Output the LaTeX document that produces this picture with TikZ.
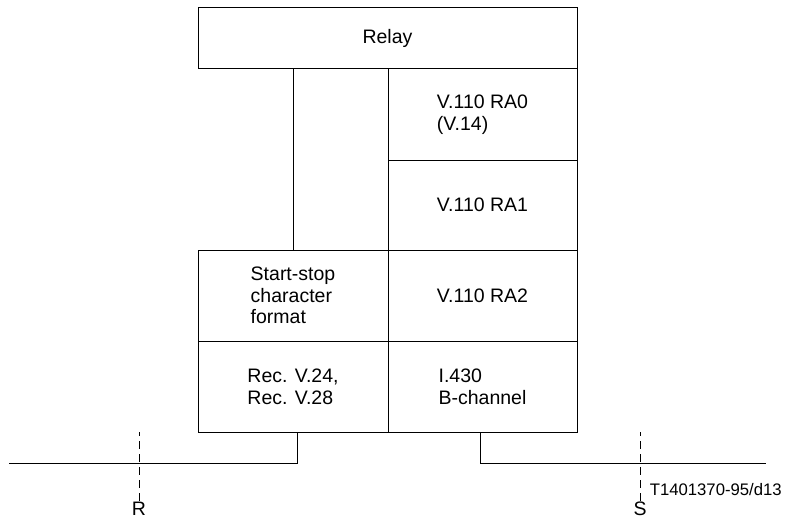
\documentclass[tikz,border=0pt]{standalone}
\usepackage{fontspec}
\setmainfont{Liberation Sans}
\usetikzlibrary{positioning}
\tikzset{
  layer/.style={draw, line width=1pt, inner sep=0pt, outer sep=0pt, align=left},
  refpoint/.style={draw, line width=1pt, dash pattern=on 8pt off 5pt}
}
\begin{document}
\begin{tikzpicture}[x=1pt, y=-1pt, line width=1pt,
  font=\fontsize{19.5}{21.7}\selectfont, node distance=0pt]
\useasboundingbox (0,0) rectangle (785,519);
% box widths and heights shared by the stack
\def\wcol{189pt}
\def\hrow{91pt}
% ---------------- protocol stack ----------------
\node[layer, minimum width=379pt, minimum height=61pt] (relay) at (387.5,38.5) {Relay};
\node[layer, minimum width=\wcol, minimum height=\hrow, below left=0pt and 0pt of relay.south east] (ra0) {V.110 RA0\\(V.14)};
\node[layer, minimum width=\wcol, minimum height=90pt, below=of ra0] (ra1) {V.110 RA1};
\node[layer, minimum width=\wcol, minimum height=\hrow, below=of ra1] (ra2) {V.110 RA2};
\node[layer, minimum width=\wcol, minimum height=\hrow, below=of ra2] (bch) {I.430\\B-channel};
\node[layer, minimum width=190pt, minimum height=\hrow, left=of ra2] (ss) {Start-stop\\character\\format};
\node[layer, minimum width=190pt, minimum height=\hrow, below=of ss] (rec) {Rec. V.24,\\Rec. V.28};
% empty column above the start-stop box
\draw (ss.north) -- (ss.north |- relay.south);
% ---------------- interfaces ----------------
\coordinate (lineL) at (9,463);
\coordinate (lineR) at (766,463);
\draw ([xshift=4pt]rec.south) |- (lineL);
\draw ([xshift=-2.5pt]bch.south) |- (lineR);
% reference points R and S
\node[inner sep=1pt] (R) at (139,509) {R};
\node[inner sep=1pt] (S) at (640,509) {S};
\draw[refpoint] (R.north) -- (R.north |- rec.south);
\draw[refpoint] (S.north) -- (S.north |- bch.south);
\node[anchor=west, font=\fontsize{16.7}{18}\selectfont] (tag) at (646,490) {T1401370-95/d13};
\end{tikzpicture}
\end{document}
